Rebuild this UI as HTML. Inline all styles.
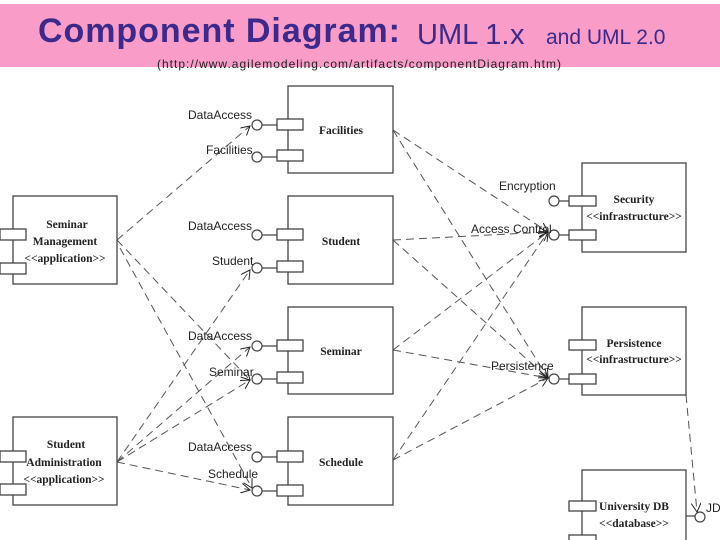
<!DOCTYPE html>
<html><head><meta charset="utf-8"><style>
body{margin:0;width:720px;height:540px;overflow:hidden;background:#fff;font-family:"Liberation Sans",sans-serif}
</style></head><body>
<svg width="720" height="540" xmlns="http://www.w3.org/2000/svg" style="position:absolute;left:0;top:0">
<defs><marker id="a" markerWidth="10" markerHeight="10" refX="9" refY="5" orient="auto" markerUnits="userSpaceOnUse"><path d="M0,0 L9,5 L0,10" fill="none" stroke="#222" stroke-width="1"/></marker></defs>
<rect x="0" y="4" width="720" height="63" fill="#f99cc8"/>
<text x="38" y="42" font-size="34" fill="#3b2a8c" font-weight="bold" textLength="362">Component Diagram:</text>
<text x="417" y="44" font-size="29" fill="#3b2a8c">UML 1.</text>
<text x="510" y="44" font-size="29" fill="#3b2a8c">x</text>
<text x="546" y="44" font-size="21" fill="#3b2a8c">and UML 2.0</text>
<text x="157" y="68" font-size="12" fill="#222" textLength="404">(http://www.agilemodeling.com/artifacts/componentDiagram.htm)</text>

<g stroke="#555" stroke-width="1" fill="none" stroke-dasharray="8,5">
<path d="M117,240 L250,126" marker-end="url(#a)"/>
<path d="M117,240 L250,380" marker-end="url(#a)"/>
<path d="M120,248 L252,488" marker-end="url(#a)"/>
<path d="M117,462 L250,270" marker-end="url(#a)"/>
<path d="M117,462 L250,347" marker-end="url(#a)"/>
<path d="M117,462 L250,380" marker-end="url(#a)"/>
<path d="M117,462 L250,490" marker-end="url(#a)"/>
<path d="M393,130 L548,232" marker-end="url(#a)"/>
<path d="M393,130 L548,378" marker-end="url(#a)"/>
<path d="M393,240 L548,232" marker-end="url(#a)"/>
<path d="M393,240 L548,378" marker-end="url(#a)"/>
<path d="M393,350 L548,232" marker-end="url(#a)"/>
<path d="M393,350 L548,378" marker-end="url(#a)"/>
<path d="M393,460 L548,232" marker-end="url(#a)"/>
<path d="M393,460 L548,378" marker-end="url(#a)"/>
<path d="M686,395 L697,512" marker-end="url(#a)"/>
</g>

<g stroke="#444" stroke-width="1.3" fill="#fff">
<rect x="288" y="86" width="105" height="87"/>
<rect x="288" y="196" width="105" height="88"/>
<rect x="288" y="307" width="105" height="87"/>
<rect x="288" y="417" width="105" height="88"/>
<rect x="13" y="196" width="104" height="88"/>
<rect x="13" y="417" width="104" height="88"/>
<rect x="582" y="163" width="104" height="89"/>
<rect x="582" y="307" width="104" height="88"/>
<rect x="582" y="470" width="104" height="80"/>
<rect x="277" y="119" width="26" height="11"/><rect x="277" y="150" width="26" height="11"/>
<rect x="277" y="229" width="26" height="11"/><rect x="277" y="261" width="26" height="11"/>
<rect x="277" y="340" width="26" height="11"/><rect x="277" y="372" width="26" height="11"/>
<rect x="277" y="451" width="26" height="11"/><rect x="277" y="485" width="26" height="11"/>
<rect x="0" y="229" width="26" height="11"/><rect x="0" y="263" width="26" height="11"/>
<rect x="0" y="451" width="26" height="11"/><rect x="0" y="484" width="26" height="11"/>
<rect x="569" y="196" width="27" height="10"/><rect x="569" y="230" width="27" height="10"/>
<rect x="569" y="340" width="27" height="10"/><rect x="569" y="374" width="27" height="10"/>
<rect x="569" y="501" width="27" height="10"/><rect x="569" y="535" width="27" height="10"/>
</g>
<path d="M262,125H277M262,157H277M262,235H277M262,268H277M262,346H277M262,379H277M262,457H277M262,491H277M559,201H569M559,235H569M559,379H569M686,516H697" fill="none" stroke="#444" stroke-width="1.3"/>
<g stroke="#444" stroke-width="1.2" fill="#fff">
<circle cx="257" cy="125" r="5"/><circle cx="257" cy="157" r="5"/>
<circle cx="257" cy="235" r="5"/><circle cx="257" cy="268" r="5"/>
<circle cx="257" cy="346" r="5"/><circle cx="257" cy="379" r="5"/>
<circle cx="257" cy="457" r="5"/><circle cx="257" cy="491" r="5"/>
<circle cx="554" cy="201" r="5"/><circle cx="554" cy="235" r="5"/>
<circle cx="554" cy="379" r="5"/><circle cx="700" cy="517" r="5"/>
</g>

<g font-size="12" fill="#222">
<text x="188" y="119">DataAccess</text><text x="206" y="154">Facilities</text>
<text x="188" y="230">DataAccess</text><text x="212" y="265">Student</text>
<text x="188" y="340">DataAccess</text><text x="209" y="376">Seminar</text>
<text x="188" y="451">DataAccess</text><text x="208" y="478">Schedule</text>
<text x="499" y="190">Encryption</text><text x="471" y="233">Access Control</text>
<text x="491" y="370">Persistence</text><text x="706" y="512">JD</text>
</g>
<g font-family="Liberation Serif,serif" font-weight="bold" font-size="11.5" fill="#222" text-anchor="middle">
<text x="341" y="134">Facilities</text>
<text x="341" y="245">Student</text>
<text x="341" y="355">Seminar</text>
<text x="341" y="466">Schedule</text>
<text x="67" y="228">Seminar</text><text x="65" y="245">Management</text><text x="65" y="262">&lt;&lt;application&gt;&gt;</text>
<text x="66" y="448">Student</text><text x="64" y="466">Administration</text><text x="64" y="483">&lt;&lt;application&gt;&gt;</text>
<text x="634" y="203">Security</text><text x="634" y="220">&lt;&lt;infrastructure&gt;&gt;</text>
<text x="634" y="347">Persistence</text><text x="634" y="363">&lt;&lt;infrastructure&gt;&gt;</text>
<text x="634" y="510">University DB</text><text x="634" y="527">&lt;&lt;database&gt;&gt;</text>
</g>
</svg>
</body></html>
